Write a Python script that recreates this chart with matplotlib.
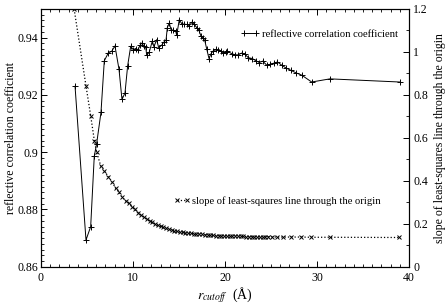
import matplotlib
matplotlib.use("Agg")
import matplotlib.pyplot as plt
from matplotlib.ticker import MultipleLocator, FuncFormatter

plt.rcParams['font.family'] = ['Liberation Serif', 'DejaVu Serif']
plt.rcParams['mathtext.fontset'] = 'stix'

# reflective correlation coefficient (left axis)
r_corr = [3.7, 4.89, 5.40, 5.79, 6.05, 6.52, 6.88, 7.32, 7.68, 8.04, 8.48, 8.80, 9.13, 9.42,
          9.75, 10.03, 10.29, 10.55, 10.76, 10.95, 11.20, 11.38, 11.49, 11.77, 12.10, 12.28,
          12.57, 12.79, 13.10, 13.37, 13.59, 13.73, 13.95, 14.13, 14.38, 14.64, 14.75, 15.03,
          15.29, 15.54, 15.83, 16.12, 16.44, 16.66, 16.92, 17.14, 17.39, 17.57, 17.80, 18.00,
          18.26, 18.48, 18.70, 19.00, 19.27, 19.53, 19.80, 20.10, 20.25, 20.73, 21.10, 21.45,
          21.80, 22.17, 22.53, 22.97, 23.37, 23.73, 24.10, 24.53, 24.90, 25.33, 25.70, 26.16,
          26.63, 27.14, 27.72, 28.34, 29.42, 31.40, 39.00]
corr = [0.9230, 0.8693, 0.8740, 0.8986, 0.9030, 0.9139, 0.9319, 0.9347, 0.9352, 0.9371,
        0.9289, 0.9184, 0.9207, 0.9302, 0.9370, 0.9358, 0.9362, 0.9358, 0.9373, 0.9381,
        0.9370, 0.9368, 0.9338, 0.9350, 0.9388, 0.9368, 0.9393, 0.9365, 0.9373, 0.9385,
        0.9391, 0.9435, 0.9451, 0.9428, 0.9426, 0.9423, 0.9408, 0.9463, 0.9449, 0.9447,
        0.9446, 0.9442, 0.9455, 0.9447, 0.9435, 0.9428, 0.9405, 0.9400, 0.9390, 0.9362,
        0.9327, 0.9344, 0.9353, 0.9359, 0.9358, 0.9353, 0.9346, 0.9350, 0.9353, 0.9344,
        0.9340, 0.9340, 0.9346, 0.9342, 0.9330, 0.9327, 0.9319, 0.9313, 0.9318, 0.9304,
        0.9307, 0.9311, 0.9315, 0.9304, 0.9294, 0.9286, 0.9277, 0.9269, 0.9245, 0.9256,
        0.9245]

# slope of least-squares line through the origin (right axis)
r_slope = [3.6, 4.89, 5.40, 5.80, 6.05, 6.49, 6.88, 7.32, 7.75, 8.12, 8.51, 8.84, 9.20, 9.57,
           9.92, 10.20, 10.58, 10.90, 11.20, 11.50, 11.80, 12.10, 12.40, 12.70, 13.00, 13.30,
           13.60, 13.90, 14.20, 14.50, 14.80, 15.10, 15.40, 15.70, 16.00, 16.30, 16.60, 16.90,
           17.20, 17.50, 17.80, 18.10, 18.40, 18.70, 19.00, 19.30, 19.60, 19.90, 20.20, 20.50,
           20.80, 21.10, 21.40, 21.70, 22.00, 22.30, 22.60, 22.90, 23.20, 23.50, 23.80, 24.10,
           24.40, 24.70, 25.10, 25.60, 26.30, 27.20, 28.30, 29.35, 31.40, 38.90]
slope = [1.200, 0.842, 0.703, 0.587, 0.533, 0.470, 0.446, 0.419, 0.393, 0.365, 0.346, 0.323,
         0.307, 0.295, 0.279, 0.267, 0.251, 0.240, 0.231, 0.222, 0.214, 0.207, 0.200, 0.193,
         0.188, 0.183, 0.178, 0.174, 0.170, 0.167, 0.164, 0.162, 0.160, 0.158, 0.156, 0.155,
         0.153, 0.152, 0.151, 0.150, 0.149, 0.148, 0.147, 0.146, 0.145, 0.145, 0.144, 0.144,
         0.143, 0.143, 0.142, 0.142, 0.141, 0.141, 0.141, 0.140, 0.140, 0.140, 0.140, 0.139,
         0.139, 0.139, 0.139, 0.139, 0.139, 0.138, 0.138, 0.138, 0.138, 0.137, 0.137, 0.136]

W, H = 447, 305
fig = plt.figure(figsize=(W / 100, H / 100), dpi=100)
ax1 = fig.add_axes([41 / W, 1 - 266.7 / H, (409 - 41) / W, (266.7 - 9) / H])
ax2 = ax1.twinx()

l1, = ax1.plot(r_corr, corr, color='black', lw=0.7, marker='+', ms=4, mew=0.7,
               label='reflective correlation coefficient')
l2, = ax2.plot(r_slope, slope, color='black', lw=0.9, ls=':', marker='x', ms=2.3, mew=0.7,
               label='slope of least-sqaures line through the origin')

ax1.set_xlim(0, 40)
ax1.set_ylim(0.86, 0.95)
ax2.set_ylim(0, 1.2)

ax1.xaxis.set_major_locator(MultipleLocator(10))
ax1.xaxis.set_minor_locator(MultipleLocator(1))
ax1.yaxis.set_major_locator(MultipleLocator(0.02))
ax1.yaxis.set_minor_locator(MultipleLocator(0.002))
ax2.yaxis.set_major_locator(MultipleLocator(0.2))
ax2.yaxis.set_minor_locator(MultipleLocator(0.1))

fmt = FuncFormatter(lambda v, p: '%g' % round(v, 4))
ax1.yaxis.set_major_formatter(fmt)
ax2.yaxis.set_major_formatter(fmt)
ax1.xaxis.set_major_formatter(fmt)

ax1.tick_params(axis='x', which='both', direction='in', top=True, labelsize=8.5, pad=4)
ax1.tick_params(axis='y', which='both', direction='in', right=False, labelsize=8.5, pad=2)
ax2.tick_params(axis='y', which='both', direction='in', labelsize=8.5, pad=3)
for ax in (ax1, ax2):
    ax.tick_params(which='major', length=4, width=0.7)
    ax.tick_params(which='minor', length=2, width=0.6)
    for s in ax.spines.values():
        s.set_linewidth(0.8)

ax1.set_ylabel('reflective correlation coefficient', fontsize=8.5, labelpad=0)
ax2.set_ylabel('slope of least-squares line through the origin', fontsize=8.5, labelpad=4)
ax1.set_xlabel(r'$r_{cutoff}$  (Å)', fontsize=10, labelpad=1)

leg1 = fig.legend(handles=[l1], loc='center left', bbox_to_anchor=(240.5 / W, 1 - 34 / H),
                  frameon=False, fontsize=7.6, numpoints=2, handlelength=1.8,
                  handletextpad=0.25, borderpad=0, borderaxespad=0)
leg2 = fig.legend(handles=[l2], loc='center left', bbox_to_anchor=(174 / W, 1 - 201 / H),
                  frameon=False, fontsize=7.6, numpoints=2, handlelength=1.5,
                  handletextpad=0.25, borderpad=0, borderaxespad=0)

fig.savefig('out.png', dpi=100)
